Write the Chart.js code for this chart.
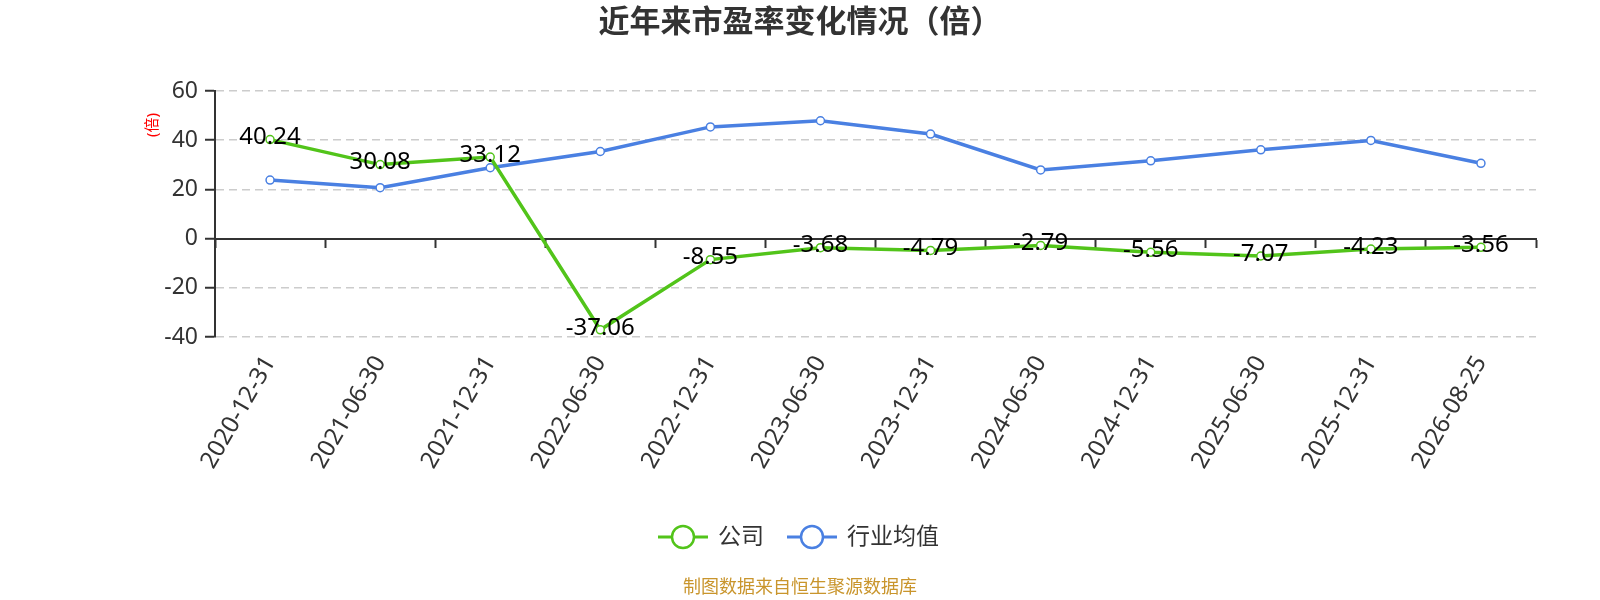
<!DOCTYPE html>
<html>
<head>
<meta charset="utf-8">
<script src="https://cdn.jsdelivr.net/npm/chart.js@4/dist/chart.umd.min.js"></script>
<style>
  html, body { margin: 0; padding: 0; background: #fff; }
  #wrap { width: 1600px; height: 600px; }
</style>
</head>
<body>
<div id="wrap"><canvas id="pe" width="1600" height="600"></canvas></div>
<script>
const categories = ['2020-12-31', '2021-06-30', '2021-12-31', '2022-06-30', '2022-12-31', '2023-06-30',
  '2023-12-31', '2024-06-30', '2024-12-31', '2025-06-30', '2025-12-31', '2026-08-25'];
const companyPE = [40.24, 30.08, 33.12, -37.06, -8.55, -3.68, -4.79, -2.79, -5.56, -7.07, -4.23, -3.56];
const industryPE = [23.8, 20.7, 28.8, 35.4, 45.4, 47.9, 42.5, 27.9, 31.6, 36.1, 39.9, 30.6];
const seriesNames = ['公司', '行业均值'];
const seriesColors = ['#52c41a', '#4a80e2'];
const yMin = -40, yMax = 60, yStep = 20;

const FONT = '"Noto Sans", "Noto Sans CJK SC", sans-serif';
Chart.defaults.font.family = FONT;

// title, unit label, legend, footer and the company value labels
const overlay = {
  id: 'overlay',
  afterDatasetsDraw(chart) {
    const ctx = chart.ctx;
    const meta = chart.getDatasetMeta(0);
    ctx.save();
    ctx.font = '24px ' + FONT;
    ctx.fillStyle = '#000';
    ctx.textAlign = 'center';
    ctx.textBaseline = 'middle';
    meta.data.forEach((pt, i) => {
      ctx.fillText(companyPE[i].toFixed(2), pt.x, pt.y - 2);
    });
    ctx.restore();
  },
  afterDraw(chart) {
    const ctx = chart.ctx;
    ctx.save();

    ctx.font = 'bold 31px ' + FONT;
    ctx.fillStyle = '#333';
    ctx.textAlign = 'center';
    ctx.textBaseline = 'middle';
    ctx.fillText('近年来市盈率变化情况（倍）', 800, 23);

    ctx.save();
    ctx.translate(153, 125);
    ctx.rotate(-Math.PI / 2);
    ctx.font = '15px ' + FONT;
    ctx.fillStyle = '#ff0000';
    ctx.fillText('(倍)', 0, 0);
    ctx.restore();

    // legend
    const items = [{x: 658, text: seriesNames[0], color: seriesColors[0]},
                   {x: 787, text: seriesNames[1], color: seriesColors[1]}];
    const ly = 537;
    items.forEach(it => {
      ctx.strokeStyle = it.color;
      ctx.lineWidth = 3;
      ctx.beginPath();
      ctx.moveTo(it.x, ly);
      ctx.lineTo(it.x + 50, ly);
      ctx.stroke();
      ctx.beginPath();
      ctx.arc(it.x + 25, ly, 11, 0, Math.PI * 2);
      ctx.fillStyle = '#fff';
      ctx.fill();
      ctx.lineWidth = 2.5;
      ctx.stroke();
      ctx.font = '23px ' + FONT;
      ctx.fillStyle = '#333';
      ctx.textAlign = 'left';
      ctx.fillText(it.text, it.x + 60, ly);
    });

    ctx.font = '18px ' + FONT;
    ctx.fillStyle = '#c9952c';
    ctx.textAlign = 'center';
    ctx.fillText('制图数据来自恒生聚源数据库', 800, 588);
    ctx.restore();
  }
};

new Chart(document.getElementById('pe'), {
  type: 'line',
  data: {
    labels: categories,
    datasets: [{
      label: seriesNames[0],
      data: companyPE,
      borderColor: seriesColors[0],
      backgroundColor: '#fff',
      borderWidth: 3.5,
      pointRadius: 4,
      pointBorderWidth: 1.5,
      pointBackgroundColor: '#fff',
      pointBorderColor: seriesColors[0],
      tension: 0
    }, {
      label: seriesNames[1],
      data: industryPE,
      borderColor: seriesColors[1],
      backgroundColor: '#fff',
      borderWidth: 3.5,
      pointRadius: 4,
      pointBorderWidth: 1.5,
      pointBackgroundColor: '#fff',
      pointBorderColor: seriesColors[1],
      tension: 0
    }]
  },
  options: {
    responsive: false,
    animation: false,
    devicePixelRatio: 1,
    layout: { padding: { top: 91, right: 64, left: 0, bottom: 0 } },
    plugins: {
      legend: { display: false },
      title: { display: false },
      tooltip: { enabled: false }
    },
    scales: {
      x: {
        type: 'category',
        position: 'bottom',
        offset: true,
        grid: { display: false },
        border: { display: false },
        ticks: {
          color: '#333',
          font: { size: 24 },
          minRotation: 60,
          maxRotation: 60,
          padding: 6,
          autoSkip: false
        },
        afterFit(scale) { scale.height = 263; }
      },
      x0: {
        type: 'category',
        position: { y: 0 },
        offset: true,
        grid: { offset: true, drawOnChartArea: false, drawTicks: true, tickLength: 8, tickColor: '#333', tickWidth: 2 },
        border: { display: true, color: '#333', width: 2 },
        ticks: { display: false }
      },
      y: {
        min: yMin,
        max: yMax,
        ticks: {
          stepSize: yStep,
          color: '#333',
          font: { size: 23 },
          padding: 7
        },
        grid: {
          color: c => c.tick && c.tick.value === 0 ? 'rgba(0,0,0,0)' : '#cccccc',
          lineWidth: 1.5,
          tickLength: 10,
          tickColor: '#333',
          tickWidth: 2
        },
        border: { display: true, color: '#333', width: 2, dash: [8, 5] },
        afterFit(scale) { scale.width = 215; }
      }
    }
  },
  plugins: [overlay]
});
</script>
</body>
</html>
